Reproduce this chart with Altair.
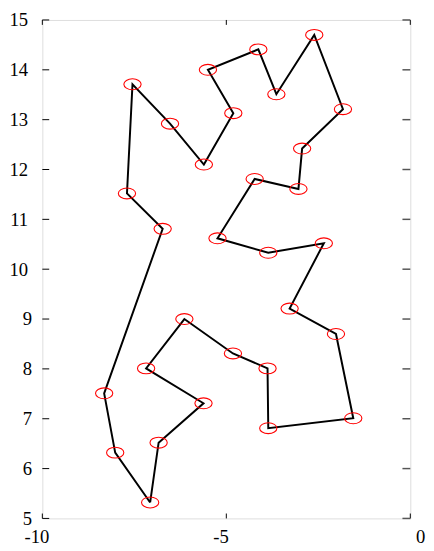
import altair as alt
import pandas as pd

# path order (closed loop)
xs = [-7.07, -6.84, -5.62, -7.18, -6.14, -4.82, -3.88, -3.86, -1.55, -2.02,
      -3.28, -2.35, -3.86, -5.24, -4.23, -3.04, -2.94, -1.83, -2.61, -3.64,
      -4.13, -5.50, -4.81, -5.61, -6.53, -7.55, -7.70, -6.73, -8.32, -8.02]
ys = [5.32, 6.52, 7.31, 8.01, 9.00, 8.31, 8.01, 6.81, 7.01, 8.70,
      9.21, 10.52, 10.33, 10.62, 11.81, 11.61, 12.42, 13.21, 14.70, 13.51,
      14.41, 14.00, 13.13, 12.10, 12.92, 13.71, 11.52, 10.81, 7.51, 6.32]

x_ticks = [-10, -5, 0]
y_ticks = [5, 6, 7, 8, 9, 10, 11, 12, 13, 14, 15]

W, H = 375, 508
FONT = "Liberation Serif, Times New Roman, serif"

pts = pd.DataFrame({"x": xs, "y": ys, "order": list(range(len(xs)))})
loop = pd.DataFrame({"x": xs + [xs[0]], "y": ys + [ys[0]],
                     "order": list(range(len(xs) + 1))})
xt = pd.DataFrame({"v": x_ticks})
yt = pd.DataFrame({"v": y_ticks})

xscale = alt.Scale(domain=[-10, 0], nice=False, zero=False)
yscale = alt.Scale(domain=[5, 15], nice=False, zero=False)

xaxis = alt.Axis(values=x_ticks, title=None, grid=False, domain=False, ticks=False,
                 tickSize=0, labelFont=FONT, labelFontSize=19, labelColor="black",
                 labelPadding=10, labelFlush=False, labelExpr="datum.value + ''",
                 labelOffset=alt.condition("datum.value == 0", alt.value(10), alt.value(-6)))
yaxis = alt.Axis(values=y_ticks, title=None, grid=False, domain=False, ticks=False,
                 tickSize=0, labelFont=FONT, labelFontSize=19, labelColor="black",
                 labelFlush=False, labelExpr="datum.value + ''",
                 labelPadding=alt.condition("datum.value >= 10", alt.value(15), alt.value(11)))

k = 0.5523
ry = 0.63
ell = (f"M1,0 C1,{k*ry:.3f} {k:.3f},{ry} 0,{ry} "
       f"C{-k:.3f},{ry} -1,{k*ry:.3f} -1,0 "
       f"C-1,{-k*ry:.3f} {-k:.3f},{-ry} 0,{-ry} "
       f"C{k:.3f},{-ry} 1,{-k*ry:.3f} 1,0 Z")

line = alt.Chart(loop).mark_line(color="black", strokeWidth=2).encode(
    x=alt.X("x:Q", scale=xscale, axis=xaxis),
    y=alt.Y("y:Q", scale=yscale, axis=yaxis),
    order="order:Q",
)

points = alt.Chart(pts).mark_point(shape=ell, size=310, color="red",
                                   strokeWidth=1.1, filled=False, opacity=1).encode(
    x=alt.X("x:Q", scale=xscale),
    y=alt.Y("y:Q", scale=yscale),
)

xt_bottom = alt.Chart(xt).mark_rule(color="black", strokeWidth=1).encode(
    x=alt.X("v:Q", scale=xscale), y=alt.value(H), y2=alt.value(H - 5))
xt_top = alt.Chart(xt).mark_rule(color="black", strokeWidth=1).encode(
    x=alt.X("v:Q", scale=xscale), y=alt.value(0), y2=alt.value(5))
yt_left = alt.Chart(yt).mark_rule(color="black", strokeWidth=1).encode(
    y=alt.Y("v:Q", scale=yscale), x=alt.value(0), x2=alt.value(7))
yt_right = alt.Chart(yt).mark_rule(color="#555555", strokeWidth=1.5).encode(
    y=alt.Y("v:Q", scale=yscale), x=alt.value(W), x2=alt.value(W - 8))

chart = alt.layer(line, points, xt_bottom, xt_top, yt_left, yt_right).properties(
    width=W, height=H,
    autosize=alt.AutoSizeParams(type="none"),
    padding={"left": 35, "top": 7, "right": 16, "bottom": 28},
).configure_view(stroke="black", strokeWidth=1.2).configure(background="white")

chart.save("out.html", embed_options={"renderer": "svg", "actions": False})
